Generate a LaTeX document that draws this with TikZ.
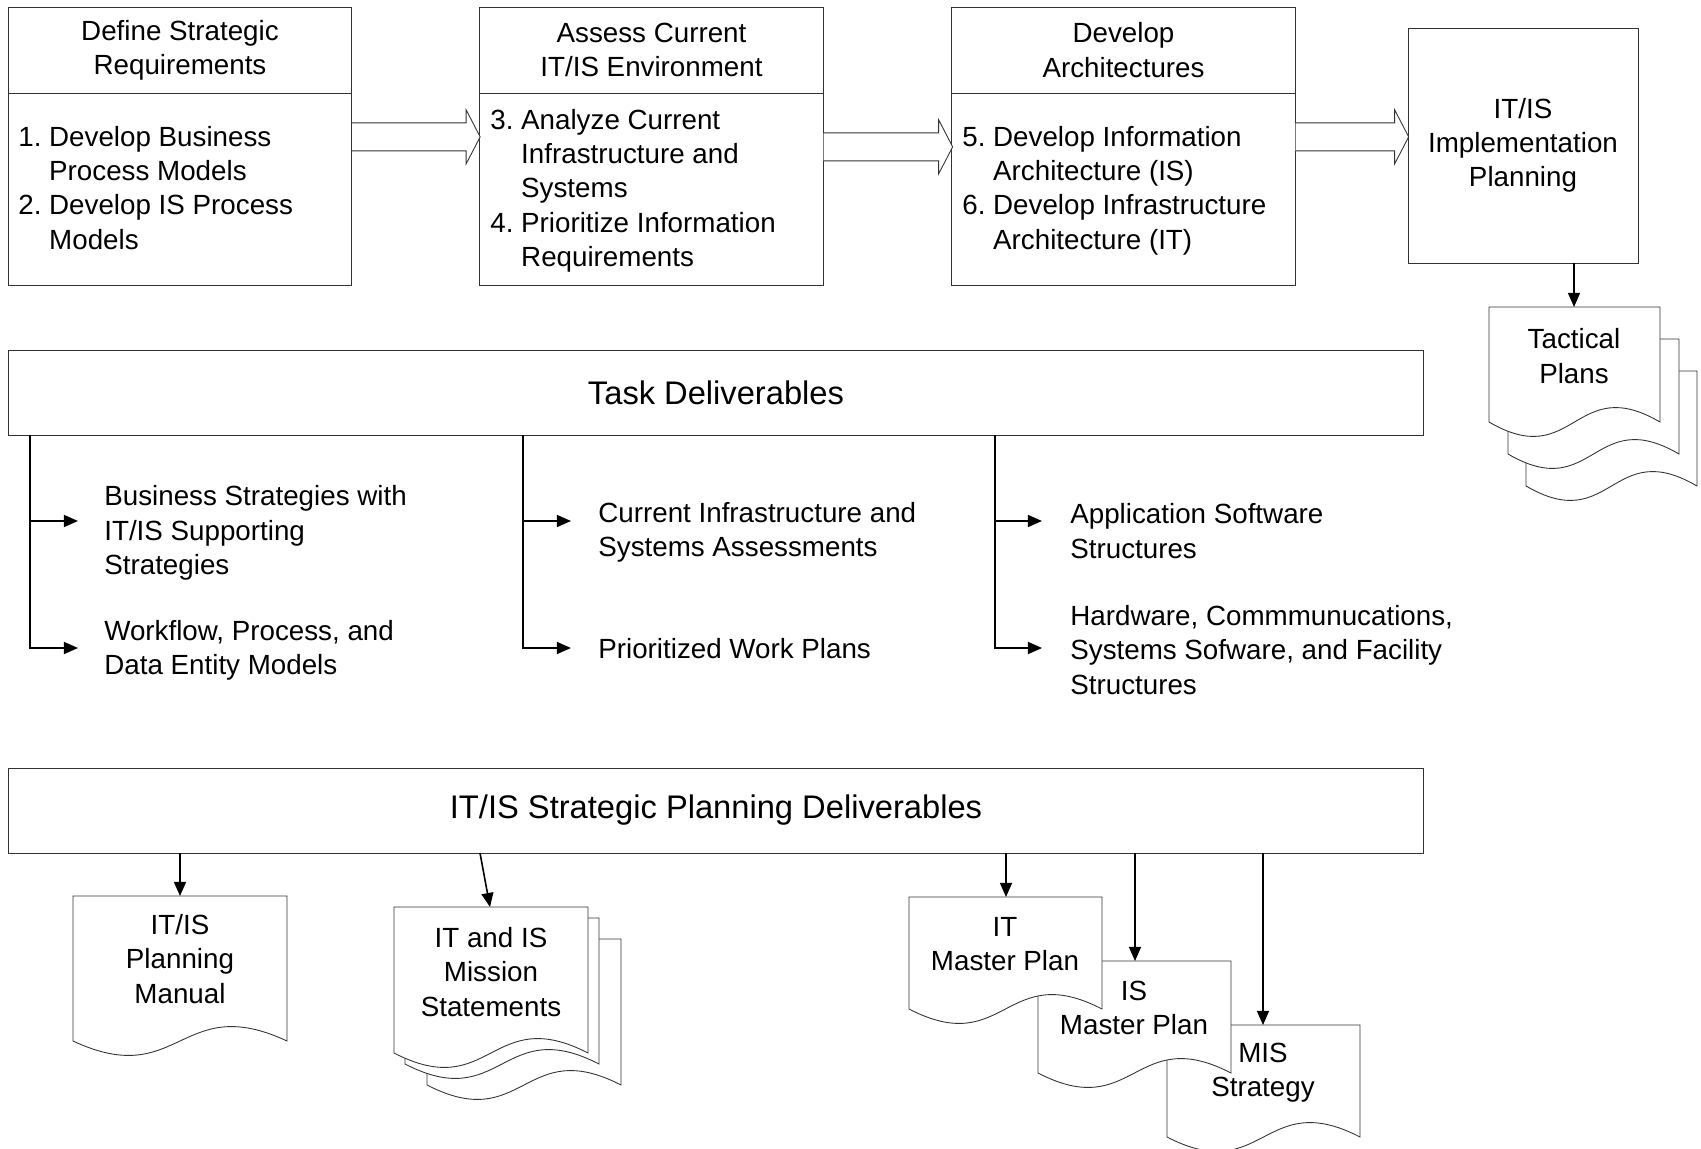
\documentclass[tikz,border=0pt]{standalone}
\usepackage{fontspec}
\setmainfont{Liberation Sans}
\usepackage{tikz}
\usetikzlibrary{arrows.meta,calc}

\begin{document}
\begin{tikzpicture}[x=0.02cm,y=-0.02cm,
        box/.style={draw=black!80,line width=0.5pt,fill=white,inner sep=0pt},
        stagebox/.style={box,minimum width=6.87cm},
        txt/.style={font=\fontsize{15.8}{19.5}\selectfont,align=center,inner sep=0pt},
        lefttxt/.style={font=\fontsize{15.8}{19.5}\selectfont,align=left,inner sep=0pt,anchor=west},
        bigtxt/.style={font=\fontsize{18.6}{22}\selectfont},
        flow/.style={line width=0.9pt,-{Triangle[length=8pt,width=6.8pt]}},
        pics/docpage/.style n args={2}{code={
            \draw [box] (0,0)--(#1,0)--(#1,#2) .. controls (0.5*#1,#2-50) and (0.5*#1,#2+50) .. (0,#2)--cycle;}},
        pics/fatarrow/.style={code={
            \draw [box] (0,-14)--(#1-14,-14)--(#1-14,-27)--(#1,0)--(#1-14,27)--(#1-14,14)--(0,14);}}]
        \useasboundingbox (0,0) rectangle (1701,1149);

        \node [stagebox,txt,minimum height=1.72cm] (strathd) at(180,50) {Define Strategic\\Requirements};
        \node [stagebox,minimum height=3.84cm,anchor=north] (stratbody) at(strathd.south) {};
        \node [stagebox,txt,minimum height=1.72cm] (assesshd) at(651.5,50) {Assess Current\\IT/IS Environment};
        \node [stagebox,minimum height=3.84cm,anchor=north] (assessbody) at(assesshd.south) {};
        \node [stagebox,txt,minimum height=1.72cm] (archhd) at(1123.5,50) {Develop\\Architectures};
        \node [stagebox,minimum height=3.84cm,anchor=north] (archbody) at(archhd.south) {};
        \node [box,txt,minimum width=4.6cm,minimum height=4.7cm] (impl) at(1523,145.5) {IT/IS\\Implementation\\Planning};

        \node [lefttxt] (strattext) at(18,191) {\begin{tabular}{@{}l@{\ }l@{}}1.&Develop Business\\&Process Models\\2.&Develop IS Process\\&Models\end{tabular}};
        \node [lefttxt] (assesstext) at(490,191) {\begin{tabular}{@{}l@{\ }l@{}}3.&Analyze Current\\&Infrastructure and\\&Systems\\4.&Prioritize Information\\&Requirements\end{tabular}};
        \node [lefttxt] (archtext) at(962,191) {\begin{tabular}{@{}l@{\ }l@{}}5.&Develop Information\\&Architecture (IS)\\6.&Develop Infrastructure\\&Architecture (IT)\end{tabular}};

        \pic at($(stratbody.east)+(0,-53)$) {fatarrow=128};
        \pic at($(assessbody.east)+(0,-43)$) {fatarrow=129};
        \pic at($(archbody.east)+(0,-53)$) {fatarrow=113};

        \pic at(1526,371) {docpage={171}{115}};
        \pic at(1508,339) {docpage={171}{115}};
        \pic at(1489,307) {docpage={171}{115}};
        \node [txt] (tactical) at(1574,356) {Tactical\\Plans};
        \coordinate (tacticaltop) at(1574,307);
        \draw [flow] (impl.south -| tacticaltop)--(tacticaltop);

        \node [box,bigtxt,minimum width=28.32cm,minimum height=1.7cm] (task) at(716,392.5) {Task Deliverables};
        \coordinate (colA) at(30,435);
        \coordinate (colB) at(523,435);
        \coordinate (colC) at(995,435);
        \coordinate (bizstrattip) at(78,521);
        \coordinate (workflowtip) at(78,648);
        \coordinate (infratip) at(571,521);
        \coordinate (workplanstip) at(571,648);
        \coordinate (appswtip) at(1042,521);
        \coordinate (hardwaretip) at(1042,648);
        \draw [flow] (colA) |- (workflowtip);
        \draw [flow] (colA |- bizstrattip)--(bizstrattip);
        \draw [flow] (colB) |- (workplanstip);
        \draw [flow] (colB |- infratip)--(infratip);
        \draw [flow] (colC) |- (hardwaretip);
        \draw [flow] (colC |- appswtip)--(appswtip);
        \node [lefttxt] (bizstrat) at(104,533) {Business Strategies with\\IT/IS Supporting\\Strategies};
        \node [lefttxt] (workflow) at(104,650) {Workflow, Process, and\\Data Entity Models};
        \node [lefttxt] (infra) at(598,532) {Current Infrastructure and\\Systems Assessments};
        \node [lefttxt] (workplans) at(598,649) {Prioritized Work Plans};
        \node [lefttxt] (appsw) at(1070,531) {Application Software\\Structures};
        \node [lefttxt] (hardware) at(1070,650) {Hardware, Commmunucations,\\Systems Sofware, and Facility\\Structures};

        \node [box,bigtxt,minimum width=28.32cm,minimum height=1.7cm] (plandeliv) at(716,810.5) {IT/IS Strategic Planning Deliverables};

        \pic at(73,896) {docpage={214}{145}};
        \pic at(427,939) {docpage={194}{146}};
        \pic at(405,918) {docpage={194}{146}};
        \pic at(394,907) {docpage={194}{146}};
        \pic at(1167,1025) {docpage={193}{112}};
        \pic at(1038,961) {docpage={193}{112}};
        \pic at(909,897) {docpage={193}{112}};
        \node [txt] (manual) at(180,959) {IT/IS\\Planning\\Manual};
        \node [txt] (mission) at(491,972) {IT and IS\\Mission\\Statements};
        \node [txt] (itmaster) at(1005,944) {IT\\Master Plan};
        \node [txt] (ismaster) at(1134,1008) {IS\\Master Plan};
        \node [txt] (mis) at(1263,1073) {MIS\\Strategy};

        \coordinate (manualtop) at(180,896);
        \coordinate (missionfoot) at(480,853);
        \coordinate (missiontop) at(490,907);
        \coordinate (itmastertop) at(1006,897);
        \coordinate (ismastertop) at(1135,961);
        \coordinate (mistop) at(1263,1025);
        \draw [flow] (plandeliv.south -| manualtop)--(manualtop);
        \draw [flow] (missionfoot)--(missiontop);
        \draw [flow] (plandeliv.south -| itmastertop)--(itmastertop);
        \draw [flow] (plandeliv.south -| ismastertop)--(ismastertop);
        \draw [flow] (plandeliv.south -| mistop)--(mistop);
    \end{tikzpicture}
\end{document}
